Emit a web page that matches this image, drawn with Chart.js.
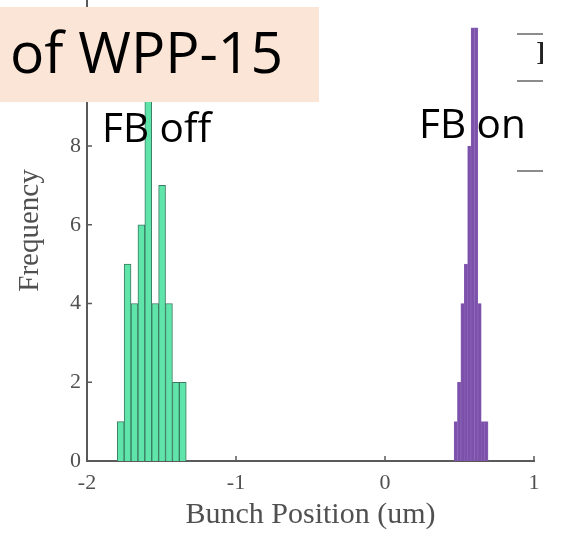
<!DOCTYPE html>
<html>
<head>
<meta charset="utf-8">
<script src="https://cdn.jsdelivr.net/npm/chart.js@4/dist/chart.umd.min.js"></script>
<style>
  html, body { margin: 0; padding: 0; background: #ffffff; }
  #wrap { position: relative; width: 565px; height: 541px; overflow: hidden; background: #fff; }
  #c { position: absolute; left: 0; top: 0; }
  .ov { position: absolute; white-space: nowrap; line-height: 1; color: #000; font-family: "Open Sans", "Noto Sans", sans-serif; }
  .seg { position: absolute; height: 2px; background: #8c8c8c; }
</style>
</head>
<body>
<div id="wrap">
  <canvas id="c" width="565" height="541"></canvas>
  <div class="ov" style="left:0;top:7px;width:319px;height:95px;background:#fbe5d6;"></div>
  <div class="ov" style="left:10px;top:23px;font-size:57px;">of WPP-15</div>
  <div class="ov" style="left:102px;top:107px;font-size:40.5px;">FB off</div>
  <div class="ov" style="left:419px;top:103px;font-size:40.5px;">FB on</div>
  <div class="seg" style="left:517px;top:33px;width:26px;"></div>
  <div class="seg" style="left:517px;top:80px;width:26px;"></div>
  <div class="seg" style="left:517px;top:170px;width:26px;"></div>
  <div class="ov" style="left:536px;top:36px;width:7px;height:34px;overflow:hidden;">
    <span style="font-family:'Liberation Serif',serif;font-size:34px;color:#222;">I</span>
  </div>
</div>
<script>
// ---- data ----
const xTickValues = [-2, -1, 0, 1];
const yTickValues = [0, 2, 4, 6, 8, 10];

// FB off histogram (bin centres, um) and counts
const fbOffBins   = [-1.7739, -1.7276, -1.6813, -1.6350, -1.5887, -1.5424, -1.4961, -1.4498, -1.4035, -1.3572];
const fbOffCounts = [1, 5, 4, 6, 10, 4, 7, 4, 2, 2];

// FB on histogram (bin centres, um) and counts
const fbOnBins   = [0.4749, 0.4977, 0.5205, 0.5433, 0.5661, 0.5889, 0.6117, 0.6345, 0.6573, 0.6801];
const fbOnCounts = [1, 2, 4, 5, 8, 11, 11, 4, 1, 1];

const xTitle = 'Bunch Position (um)';
const yTitle = 'Frequency';

const axisColor = '#5a5a5a';
const textColor = '#505050';
const serif = "'Liberation Serif', 'Times New Roman', serif";

const innerTicks = {
  id: 'innerTicks',
  afterDraw(chart) {
    const ctx = chart.ctx;
    const xs = chart.scales.x, ys = chart.scales.y;
    const area = chart.chartArea;
    ctx.save();
    ctx.strokeStyle = axisColor;
    ctx.lineWidth = 1.5;
    ctx.beginPath();
    xTickValues.forEach(v => {
      const px = xs.getPixelForValue(v);
      ctx.moveTo(px, area.bottom);
      ctx.lineTo(px, area.bottom - 5);
    });
    yTickValues.forEach(v => {
      const py = ys.getPixelForValue(v);
      ctx.moveTo(area.left, py);
      ctx.lineTo(area.left + 5, py);
    });
    ctx.stroke();
    ctx.restore();
  }
};

new Chart(document.getElementById('c'), {
  type: 'bar',
  data: {
    datasets: [
      {
        label: 'FB off',
        data: fbOffBins.map((x, i) => ({ x: x, y: fbOffCounts[i] })),
        xAxisID: 'x',
        grouped: false,
        backgroundColor: '#5fe4a9',
        borderColor: '#3a7a60',
        borderWidth: 1,
        borderSkipped: 'start',
        barPercentage: 1,
        categoryPercentage: 1
      },
      {
        label: 'FB on',
        data: fbOnBins.map((x, i) => ({ x: x, y: fbOnCounts[i] })),
        xAxisID: 'x2',
        grouped: false,
        backgroundColor: '#7b51a9',
        borderColor: '#8e66bb',
        borderWidth: 0.6,
        borderSkipped: 'start',
        barPercentage: 1,
        categoryPercentage: 1
      }
    ]
  },
  options: {
    responsive: false,
    animation: false,
    devicePixelRatio: 1,
    layout: { padding: { left: 0, right: 31, top: 0, bottom: 0 } },
    plugins: { legend: { display: false }, tooltip: { enabled: false } },
    scales: {
      x: {
        type: 'linear',
        min: -2, max: 1,
        offset: false,
        grid: { display: false, drawTicks: false, offset: false },
        border: { display: true, color: axisColor, width: 2 },
        afterBuildTicks: s => { s.ticks = xTickValues.map(v => ({ value: v })); },
        afterFit: s => { s.height = 80; s.paddingLeft = 0; s.paddingRight = 0; },
        ticks: {
          autoSkip: false, maxRotation: 0, padding: 9,
          color: textColor,
          font: { family: serif, size: 22 },
          callback: v => String(v)
        },
        title: {
          display: true, text: xTitle, color: textColor,
          font: { family: serif, size: 30 },
          padding: { top: 0, bottom: 8 }
        }
      },
      x2: {
        type: 'linear',
        min: -2, max: 1,
        offset: false,
        display: false,
        grid: { offset: false }
      },
      y: {
        type: 'linear',
        min: 0, max: 11.71,
        grid: { display: false, drawTicks: false },
        border: { display: true, color: axisColor, width: 2 },
        afterBuildTicks: s => { s.ticks = yTickValues.map(v => ({ value: v })); },
        afterFit: s => { s.width = 87; s.paddingTop = 0; s.paddingBottom = 0; },
        ticks: {
          padding: 6,
          color: textColor,
          font: { family: serif, size: 22 },
          callback: v => String(v)
        },
        title: {
          display: true, text: yTitle, color: textColor,
          font: { family: serif, size: 29 },
          padding: { top: 13, bottom: 0 }
        }
      }
    }
  },
  plugins: [innerTicks]
});
</script>
</body>
</html>
